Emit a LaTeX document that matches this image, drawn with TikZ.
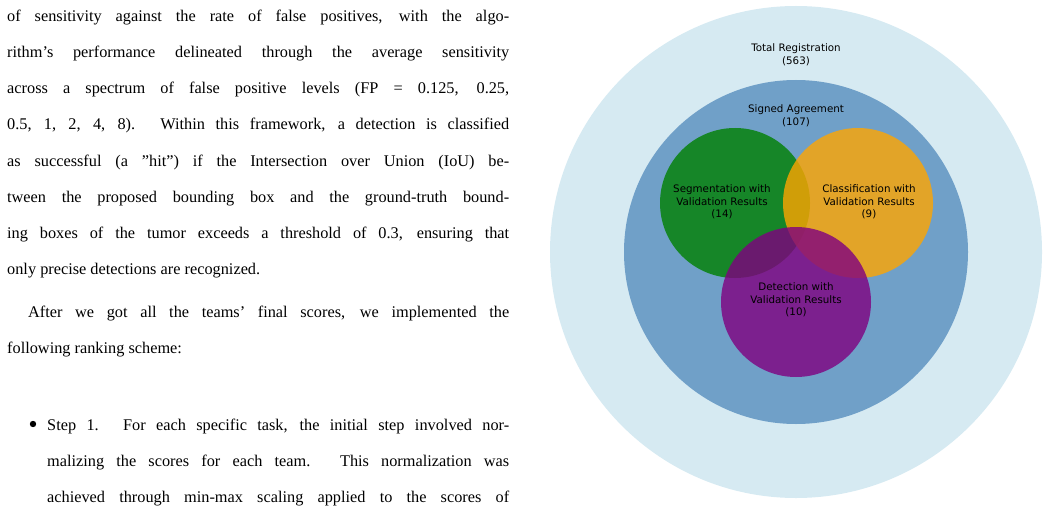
\documentclass[tikz,border=0pt]{standalone}
\usepackage{fontspec}
\setmainfont{Liberation Serif}
\newfontfamily\dvs{DejaVu Sans}
\begin{document}
\begin{tikzpicture}[x=1pt,y=-1pt,
  ln/.style={anchor=base west,inner sep=0,font=\fontsize{16.3}{18}\selectfont},
  lab/.style={align=center,inner sep=0,font=\dvs\fontsize{10.3}{12.6}\selectfont},
  set/.style={opacity=0.8}]
\useasboundingbox (0,0) rectangle (1049,524);
% left text
\node[ln] (l1) at (7,22) {\makebox[502pt][s]{of sensitivity against the rate of false positives, with the algo-}};
\node[ln] (l2) at (7,58) {\makebox[502pt][s]{rithm’s performance delineated through the average sensitivity}};
\node[ln] (l3) at (7,94) {\makebox[502pt][s]{across a spectrum of false positive levels (FP = 0.125, 0.25,}};
\node[ln] (l4) at (7,130) {\makebox[502pt][s]{0.5, 1, 2, 4, 8). Within this framework, a detection is classified}};
\node[ln] (l5) at (7,166) {\makebox[502pt][s]{as successful (a ”hit”) if the Intersection over Union (IoU) be-}};
\node[ln] (l6) at (7,202) {\makebox[502pt][s]{tween the proposed bounding box and the ground-truth bound-}};
\node[ln] (l7) at (7,238) {\makebox[502pt][s]{ing boxes of the tumor exceeds a threshold of 0.3, ensuring that}};
\node[ln] (l8) at (7,274) {only precise detections are recognized.};
\node[ln] (p1) at (28,317) {\makebox[481pt][s]{After we got all the teams’ final scores, we implemented the}};
\node[ln] (p2) at (7,353) {following ranking scheme:};
\fill (33,424) circle (3.2);
\node[ln] (b1) at (47,430) {\makebox[462pt][s]{Step 1. For each specific task, the initial step involved nor-}};
\node[ln] (b2) at (47,466) {\makebox[462pt][s]{malizing the scores for each team. This normalization was}};
\node[ln] (b3) at (47,502) {\makebox[462pt][s]{achieved through min-max scaling applied to the scores of}};
% diagram
\fill[fill={rgb,255:red,214;green,234;blue,242}] (796,252) circle (246);
\fill[fill={rgb,255:red,112;green,160;blue,200}] (796,252) circle (172);
\fill[set,fill={rgb,255:red,0;green,128;blue,0}] (735,203) circle (75);
\fill[set,fill={rgb,255:red,255;green,165;blue,0}] (858,203) circle (75);
\fill[set,fill={rgb,255:red,128;green,0;blue,128}] (796,302) circle (75);
\node[lab] (tot) at (796,55) {Total Registration\\(563)};
\node[lab] (sig) at (796,116) {Signed Agreement\\(107)};
\node[lab] (seg) at (722,202) {Segmentation with\\Validation Results\\(14)};
\node[lab] (cls) at (869,202) {Classification with\\Validation Results\\(9)};
\node[lab] (det) at (796,300) {Detection with\\Validation Results\\(10)};
\end{tikzpicture}
\end{document}
